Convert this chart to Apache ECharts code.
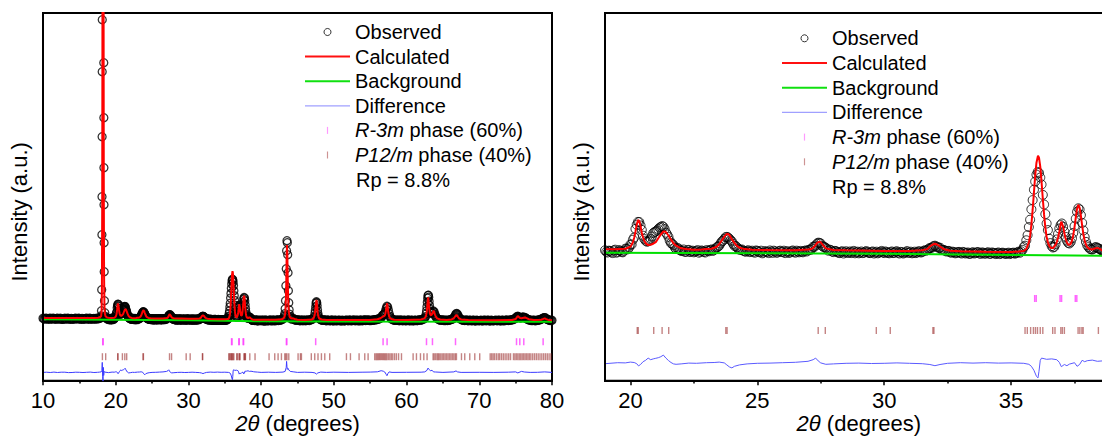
<!DOCTYPE html>
<html><head><meta charset="utf-8">
<script src="https://cdn.jsdelivr.net/npm/echarts@6/dist/echarts.min.js"></script>
<style>html,body{margin:0;padding:0;background:#fff}#c{width:1102px;height:436px}</style>
</head><body><div id="c"></div>
<script>
// ---------- DATA (2θ in degrees, intensity in arbitrary units) ----------
const observed = [
[10,62.4],[10.25,61.6],[10.5,62.3],[10.75,61.5],[11,62.6],[11.25,61.9],[11.5,62.2],[11.75,61.4],[12,62.5],[12.25,61.8],[12.5,62.0],[12.75,61.3],[13,62.4],[13.25,61.7],[13.5,62.3],[13.75,61.5],[14,62.1],[14.25,61.6],[14.5,62.5],[14.75,61.8],[15,62.2],[15.25,61.4],[15.5,62.0],[15.75,61.7],[16,62.4],[16.25,61.5],[16.5,62.2],[16.75,61.8],[17,62.3],[17.25,61.6],[17.5,62.1],[17.75,62.4],
[10.125,61.9],[10.375,62.6],[10.625,61.8],[10.875,62.2],[11.125,61.4],[11.375,62.5],[11.625,61.7],[11.875,62.3],[12.125,61.6],[12.375,62.4],[12.625,61.5],[12.875,62.1],[13.125,61.8],[13.375,62.6],[13.625,61.6],[13.875,62.2],[14.125,61.4],[14.375,62.3],[14.625,61.9],[14.875,62.5],[15.125,61.6],[15.375,62.2],[15.625,61.5],[15.875,62.3],[16.125,61.8],[16.375,62.6],[16.625,61.5],[16.875,62.0],[17.125,61.7],[17.375,62.4],[17.625,61.9],
[17.85,62.6],[17.95,63.2],[18,64.8],[18.04,70],[18.072,91],[18.102,146],[18.114,184],[18.128,244],[18.141,309],[18.149,361],[18.17,600],[18.2,800],[18.23,900],[18.26,950],[18.29,860],[18.32,700],[18.34,520],[18.358,318],[18.368,263],[18.378,213],[18.388,176],[18.401,138],[18.415,109],[18.45,80],[18.5,68],[18.55,64.5],[18.6,63.4],[18.7,62.5],[18.8,62.0],[18.9,61.6],
[19,62.2],[19.1,61.1],[19.2,61.9],[19.3,60.8],[19.4,62.5],[19.5,61.4],[19.6,61.9],[19.7,61.2],[19.8,63.0],[19.9,62.7],[20,65.1],[20.05,65.1],[20.1,67.5],[20.15,68.6],[20.2,72.9],[20.25,75.0],[20.3,76.4],[20.35,76.3],[20.4,74.6],[20.45,72.4],[20.5,69.5],[20.55,67.9],[20.6,67.0],[20.7,66.7],[20.8,67.9],[20.9,70.8],[21,71.6],[21.1,72.8],[21.2,73.8],[21.3,74.0],[21.4,71.0],[21.5,68.9],[21.6,65.8],[21.7,64.8],[21.8,62.9],[21.9,63.1],[22,61.9],[22.1,62.6],[22.2,61.5],[22.3,62.4],[22.4,61.8],[22.5,61.2],[22.6,61.9],[22.7,61.0],[22.8,62.1],[22.9,61.4],[23,62.3],[23.1,61.7],[23.2,62.6],[23.3,62.4],[23.4,63.7],[23.5,64.5],[23.6,66.6],[23.7,67.9],[23.8,68.9],[23.9,68.0],[24,66.6],[24.1,64.4],[24.2,63.7],[24.3,62.5],[24.4,62.6],[24.5,61.7],[24.6,62.0],[24.7,61.3],[24.8,62.0],[24.9,61.0],
[19.05,61.5],[19.15,62.0],[19.25,61.3],[19.35,62.1],[19.45,61.0],[19.55,62.3],[19.65,61.4],[19.75,62.0],[19.85,62.9],[19.95,63.6],[20.65,66.5],[20.75,67.2],[20.85,69.1],[20.95,71.3],[21.05,72.1],[21.15,73.5],[21.25,74.3],[21.35,72.8],[21.45,70.1],[21.55,67.0],[21.65,65.4],[21.75,63.6],[21.85,63.3],[21.95,62.3],
[22.05,62.0],[22.15,61.4],[22.25,62.2],[22.35,61.3],[22.45,62.0],[22.55,61.6],[22.65,62.3],[22.75,61.5],[22.85,61.9],[22.95,61.1],[23.05,62.0],[23.15,62.4],[23.25,61.9],[23.35,63.1],[23.45,63.9],[23.55,65.6],[23.65,67.0],[23.75,68.7],[23.85,68.6],[23.95,67.2],[24.05,65.4],[24.15,64.4],[24.25,62.9],[24.35,62.4],[24.45,62.0],[24.55,61.5],[24.65,62.2],[24.75,61.6],[24.85,61.4],[24.95,62.1],
[25,61.9],[25.1,61.2],[25.2,60.7],[25.3,61.8],[25.4,61.5],[25.5,62.1],[25.6,60.9],[25.7,61.6],[25.8,61.1],[25.9,62.0],[26,61.3],[26.1,60.8],[26.2,61.7],[26.3,61.2],[26.4,62.1],[26.5,61.0],[26.6,61.6],[26.7,61.9],[26.8,61.2],[26.9,62.1],[27,62.2],[27.1,62.4],[27.2,64.0],[27.3,64.6],[27.4,66.0],[27.5,65.6],[27.6,63.9],[27.7,63.4],[27.8,62.0],[27.9,62.3],[28,61.3],
[25.05,61.4],[25.15,62.0],[25.25,61.1],[25.35,61.3],[25.45,60.8],[25.55,61.5],[25.65,62.0],[25.75,61.0],[25.85,61.7],[25.95,61.4],[26.05,62.0],[26.15,61.5],[26.25,60.9],[26.35,61.8],[26.45,61.4],[26.55,62.0],[26.65,61.2],[26.75,61.5],[26.85,61.9],[26.95,61.6],[27.05,62.5],[27.15,63.1],[27.25,63.9],[27.35,65.5],[27.45,65.9],[27.55,64.5],[27.65,63.9],[27.75,62.8],[27.85,62.5],[27.95,61.6],
[28.1,61.8],[28.2,61.0],[28.3,61.5],[28.4,60.6],[28.5,61.7],[28.6,61.1],[28.7,60.8],[28.8,61.9],[28.9,61.2],[29,60.7],[29.1,61.6],[29.2,61.0],[29.3,61.8],[29.4,60.9],[29.5,61.4],[29.6,60.6],[29.7,61.5],[29.8,61.1],[29.9,61.9],[30,60.8],[30.1,61.3],[30.2,60.7],[30.3,61.6],[30.4,61.0],[30.5,61.7],[30.6,60.6],[30.7,61.2],[30.8,60.9],[30.9,61.8],[31,61.1],[31.1,60.7],[31.2,61.5],[31.3,61.2],[31.4,61.6],[31.5,61.4],[31.6,62.2],[31.7,62.3],[31.8,63.4],[31.9,63.8],[32,64.5],[32.1,63.9],[32.2,63.5],[32.3,62.3],[32.4,62.0],[32.5,61.8],[32.6,61.2],[32.7,61.5],[32.8,60.7],[32.9,61.3],
[28.05,61.9],[28.15,61.3],[28.25,60.8],[28.35,61.7],[28.45,61.2],[28.55,60.9],[28.65,61.6],[28.75,61.4],[28.85,60.7],[28.95,61.5],[29.05,61.1],[29.15,60.8],[29.25,61.5],[29.35,61.3],[29.45,60.8],[29.55,61.6],[29.65,61.1],[29.75,60.7],[29.85,61.4],[29.95,61.2],[30.05,61.6],[30.15,60.9],[30.25,61.3],[30.35,60.8],[30.45,61.5],[30.55,61.0],[30.65,61.4],[30.75,60.6],[30.85,61.3],[30.95,60.9],[31.05,61.5],[31.15,61.0],[31.25,60.8],[31.35,61.7],[31.45,61.1],[31.55,61.9],[31.65,62.0],[31.75,62.9],[31.85,63.3],[31.95,64.3],[32.05,64.0],[32.15,63.4],[32.25,62.6],[32.35,62.4],[32.45,61.6],[32.55,61.9],[32.65,61.0],[32.75,61.3],[32.85,60.9],[32.95,61.4],
[33,60.9],[33.1,61.4],[33.2,60.6],[33.3,61.1],[33.4,60.5],[33.5,61.2],[33.6,60.8],[33.7,61.3],[33.8,60.4],[33.9,61.0],[34,60.6],[34.1,61.2],[34.2,60.5],[34.3,60.9],[34.4,60.3],[34.5,61.1],[34.6,60.6],[34.7,60.9],[34.8,60.4],[34.9,61.0],[35,60.7],[35.1,61.0],[35.2,60.8],[35.3,61.5],[35.4,61.7],
[33.05,60.6],[33.15,61.1],[33.25,60.9],[33.35,60.4],[33.45,61.0],[33.55,60.6],[33.65,61.2],[33.75,60.7],[33.85,61.1],[33.95,60.5],[34.05,61.0],[34.15,60.4],[34.25,61.1],[34.35,60.7],[34.45,60.9],[34.55,60.3],[34.65,61.0],[34.75,60.5],[34.85,60.8],[34.95,60.3],[35.05,60.9],[35.15,60.5],[35.25,61.2],[35.35,61.0],[35.45,62.4],
[35.5,63.8],[35.55,64.5],[35.6,67.2],[35.65,69.8],[35.7,73.8],[35.75,77.5],[35.8,82.7],[35.85,87.3],[35.9,92.5],[35.95,96.6],[36,100.0],[36.05,101.4],[36.1,100.9],[36.15,98.6],[36.2,95.1],[36.25,89.9],[36.3,85.1],[36.35,80.3],[36.4,75.6],[36.45,72.3],[36.5,68.0],[36.55,65.8],[36.6,64.3],[36.65,63.6],[36.7,63.9],[36.75,65.2],[36.8,67.6],[36.85,70.4],[36.9,73.1],[36.95,74.8],[37,75.6],[37.05,74.0],[37.1,71.5],[37.15,68.9],[37.2,67.0],[37.25,65.9],[37.3,65.6],[37.35,66.4],[37.4,68.2],[37.45,70.9],[37.5,74.3],[37.55,78.0],[37.6,81.4],[37.65,83.2],[37.7,82.6],[37.75,79.8],[37.8,75.9],[37.85,72.1],[37.9,68.8],[37.95,66.4],[38,64.7],[38.1,63.0],[38.2,62.6],[38.3,63.6],[38.4,63.4],[38.5,62.8],[38.6,61.9],[38.7,61.0],[38.8,60.6],[38.9,60.3],[39,60.5],
[38.05,63.8],[38.15,62.7],[38.25,63.0],[38.35,63.8],[38.45,63.1],[38.55,62.3],[38.65,61.5],[38.75,60.7],[38.85,60.9],[38.95,60.4],
[39.25,60.6],[39.5,59.7],[39.75,60.4],[40,59.9],[40.25,60.8],[40.5,59.6],[40.75,60.3],[41,60.0],[41.25,60.7],[41.5,59.8],[41.75,60.5],[42,60.1],[42.25,60.9],[42.5,60.4],[42.75,61.0],[43,61.8],[43.1,62.9],[43.2,64.8],[43.25,67],[43.3,72],[43.35,80],[43.4,95],[43.45,112],[43.5,130],[43.55,140],[43.6,138],[43.65,126],[43.7,108],[43.75,90],[43.8,78],[43.85,71],[43.9,66.5],[43.95,64.3],[44,63.0],[44.1,62.1],[44.25,61.6],[44.4,62.5],[44.5,61.5],[44.75,60.4],[45,60.9],[45.25,60.2],[45.5,60.7],[45.75,60.0],[46,60.8],[46.25,60.3],[46.5,60.6],[46.75,60.9],[47,61.3],[47.2,62.4],[47.3,64],[47.4,67.5],[47.45,70.5],[47.5,74],[47.55,77.5],[47.6,78.9],[47.65,78],[47.7,75],[47.75,71],[47.8,67.5],[47.85,65],[47.9,63.3],[48,62],[48.25,60.9],[48.5,60.3],[48.75,60.8],[49,59.9],[49.25,60.5],[49.5,60.0],[49.75,60.7],
[39.125,60.2],[39.375,60.9],[39.625,60.1],[39.875,60.6],[40.125,60.3],[40.375,59.8],[40.625,60.7],[40.875,59.9],[41.125,60.4],[41.375,60.1],[41.625,60.8],[41.875,59.9],[42.125,60.5],[42.375,60.2],[42.625,60.6],[42.875,61.2],[44.625,61.0],[44.875,60.5],[45.125,60.7],[45.375,60.0],[45.625,60.6],[45.875,60.3],[46.125,60.0],[46.375,60.7],[46.625,60.2],[46.875,61.0],
[50,59.8],[50.25,60.4],[50.5,60.1],[50.75,60.6],[51,59.7],[51.25,60.3],[51.5,60.0],[51.75,60.6],[52,59.9],[52.25,60.5],[52.5,60.1],[52.75,60.8],[53,60.0],[53.25,60.6],[53.5,59.8],[53.75,60.4],[54,60.2],[54.25,60.9],[54.5,60.3],[54.75,60.7],[55,60.1],[55.25,60.6],[55.5,61.0],[55.75,60.8],[56,61.4],[56.25,61.9],[56.5,63.0],[56.6,64.2],[56.7,65.3],[56.8,66.0],[56.9,66.4],[57,67.5],[57.1,69.6],[57.2,72.3],[57.3,74.4],[57.4,73.6],[57.5,70.6],[57.6,67.2],[57.7,64.6],[57.8,63.0],[57.9,62.0],[58,61.5],[58.25,60.7],[58.5,60.3],[58.75,60.8],[59,60.0],[59.25,60.6],[59.5,59.9],[59.75,60.5],
[48.125,61.5],[48.375,60.5],[48.625,60.9],[48.875,60.2],[49.125,60.7],[49.375,60.1],[49.625,60.4],[49.875,60.0],[50.125,60.6],[50.375,59.9],[50.625,60.4],[50.875,60.1],[51.125,60.6],[51.375,59.8],[51.625,60.4],[51.875,60.2],[52.125,60.7],[52.375,60.0],[52.625,60.5],[52.875,60.2],[53.125,60.4],[53.375,60.1],[53.625,60.7],[53.875,59.9],[54.125,60.5],[54.375,60.2],[54.625,60.8],[54.875,60.3],[55.125,60.5],[55.375,60.3],[55.625,60.9],[55.875,61.2],[56.125,61.6],[56.375,62.5],
[60,60.1],[60.25,60.7],[60.5,59.8],[60.75,60.4],[61,60.0],[61.25,60.6],[61.5,60.2],[61.75,60.9],[62,60.7],[62.25,61.4],[62.5,62.6],[62.6,64],[62.7,67],[62.75,70],[62.8,74],[62.85,78.5],[62.9,82.5],[62.95,85.2],[63,85.5],[63.05,83.5],[63.1,79.5],[63.15,75.5],[63.2,72],[63.3,68.5],[63.4,67.2],[63.5,67.8],[63.6,69.2],[63.7,69.7],[63.8,68.6],[63.9,66.4],[64,64.4],[64.1,63.0],[64.25,61.9],[64.5,60.9],[64.75,60.4],[65,60.8],[65.25,60.1],[65.5,60.6],[65.75,60.3],[66,61.0],[66.25,61.4],[66.5,62.8],[66.6,64.0],[66.7,65.5],[66.8,66.8],[66.9,67.2],[67,66.4],[67.1,64.9],[67.2,63.3],[67.3,62.2],[67.5,61.2],[67.75,60.6],[68,60.2],[68.25,60.7],[68.5,59.9],[68.75,60.4],[69,60.0],[69.25,60.6],[69.5,59.7],[69.75,60.3],
[58.125,61.0],[58.375,60.5],[58.625,60.6],[58.875,60.3],[59.125,60.7],[59.375,60.2],[59.625,60.6],[59.875,60.0],[60.125,60.4],[60.375,60.2],[60.625,60.6],[60.875,60.0],[61.125,60.5],[61.375,60.1],[61.625,60.5],[61.875,60.6],[62.125,61.0],[62.375,61.8],[64.375,61.4],[64.625,60.6],[64.875,60.7],[65.125,60.4],[65.375,60.5],[65.625,60.2],[65.875,60.7],[66.125,61.2],[66.375,62.0],
[70,59.9],[70.25,60.5],[70.5,59.8],[70.75,60.4],[71,60.0],[71.25,60.6],[71.5,59.7],[71.75,60.3],[72,59.9],[72.25,60.5],[72.5,60.0],[72.75,60.6],[73,59.8],[73.25,60.4],[73.5,60.1],[73.75,60.7],[74,60.2],[74.25,60.6],[74.5,60.9],[74.75,61.5],[75,62.6],[75.1,63.4],[75.2,64.1],[75.3,64.4],[75.4,64.0],[75.5,63.3],[75.6,62.9],[75.75,63.0],[75.9,63.4],[76,63.5],[76.1,63.6],[76.25,63.3],[76.4,62.6],[76.5,62.0],[76.75,61.1],[77,60.6],[77.25,60.1],[77.5,60.5],[77.75,60.0],[78,60.3],[78.25,60.9],[78.5,61.4],[78.75,62.4],[78.9,63.0],[79,63.1],[79.1,62.7],[79.25,61.8],[79.5,60.9],[79.75,60.2],[80,60.4],
[67.625,60.9],[67.875,60.3],[68.125,60.5],[68.375,60.2],[68.625,60.6],[68.875,60.1],[69.125,60.4],[69.375,60.0],[69.625,60.5],[69.875,60.1],[70.125,60.3],[70.375,60.0],[70.625,60.5],[70.875,60.2],[71.125,60.4],[71.375,59.9],[71.625,60.5],[71.875,60.0],[72.125,60.3],[72.375,60.2],[72.625,60.4],[72.875,60.0],[73.125,60.5],[73.375,59.9],[73.625,60.5],[73.875,60.3],[74.125,60.5],[74.375,60.8],[74.625,61.1],[74.875,62.0],[76.625,61.5],[76.875,60.8],[77.125,60.3],[77.375,60.4],[77.625,60.2],[77.875,60.4],[78.125,60.6],[78.375,61.1],[78.625,61.9],[79.375,61.3],[79.625,60.5],[79.875,60.3]
];
const calculated = [
[10,62.8],[12,62.8],[14,62.7],[16,62.7],[17,62.8],[17.6,63.0],[17.9,63.6],[18,64.8],[18.06,70],[18.1,90],[18.14,170],[18.17,330],[18.2,600],[18.23,900],[18.25,1000],[18.27,950],[18.3,700],[18.33,400],[18.36,200],[18.4,105],[18.45,75],[18.5,67.5],[18.6,64.5],[18.8,63.3],[19,62.9],[19.4,62.7],[19.8,63.0],[20,64.0],
[20.1,66.2],[20.15,68.5],[20.2,71.5],[20.25,75.0],[20.3,77.3],[20.35,76.8],[20.4,74.2],[20.45,71.0],[20.5,68.6],[20.55,66.9],[20.6,65.8],[20.7,64.8],[20.8,65.0],[20.9,65.5],[21,66.3],[21.1,68.2],[21.2,70.1],[21.3,71.6],[21.35,71.6],[21.4,71.3],[21.5,69.6],[21.6,67.5],[21.7,65.7],[21.8,64.5],[22,63.2],[22.2,62.8],[22.5,62.5],[22.8,62.6],[23,62.9],[23.2,63.0],[23.4,64.0],[23.5,65.2],[23.6,67.1],[23.7,69.0],[23.8,70.4],[23.85,70.3],[23.9,69.8],[24,67.7],[24.1,65.9],[24.2,64.4],[24.3,63.5],[24.5,62.8],[24.8,62.5],[25.5,62.3],[26.5,62.2],[27,62.6],
[27.1,62.7],[27.2,63.4],[27.3,64.9],[27.35,65.8],[27.43,66.5],[27.5,66.2],[27.6,64.6],[27.7,63.3],[27.8,62.8],[28,62.4],[28.5,62.2],[29,62.1],[30,61.9],[31,61.9],[31.5,62.2],[31.7,62.8],[31.8,64.1],[31.9,65.0],[32,65.5],[32.1,65.0],[32.2,64.1],[32.3,63.2],[32.4,62.6],[32.6,62.0],[33,61.7],[34,61.5],[35,61.4],[35.3,61.6],[35.5,61.8],[35.6,62.9],[35.7,66.0],[35.75,69.5],[35.8,75.0],[35.85,82.5],[35.9,91.0],[35.95,99.5],[36,106.0],[36.06,109.5],[36.1,108.5],[36.15,104.0],[36.2,96.5],[36.25,88.0],[36.3,80.0],[36.35,73.5],[36.4,69.0],[36.45,66.2],[36.5,64.5],[36.55,63.6],[36.6,63.3],[36.65,63.4],[36.7,64.0],[36.75,64.9],[36.8,66.3],[36.85,68.5],[36.9,71.5],[36.95,75.0],[36.98,76.5],[37,76.3],[37.05,74.0],[37.1,70.8],[37.15,68.0],[37.2,66.1],[37.25,65.1],[37.3,64.9],[37.35,65.4],[37.4,67.0],[37.45,69.8],[37.5,73.8],[37.55,78.6],[37.6,83.0],[37.65,85.0],[37.7,83.5],[37.75,79.5],[37.8,74.5],[37.85,70.2],[37.9,67.0],[37.95,65.0],[38,63.8],[38.1,62.8],[38.2,62.6],[38.3,63.1],[38.4,63.4],[38.5,62.9],[38.6,62.0],[38.8,61.3],[39,61.0],
[40,60.9],[41,60.9],[42,61.0],[42.8,61.4],[43,61.9],[43.2,63.5],[43.3,67],[43.35,71],[43.4,80],[43.45,96],[43.5,121],[43.55,135.7],[43.6,128],[43.65,105],[43.7,86],[43.75,75],[43.8,69],[43.9,64.5],[44,63],[44.2,62.3],[44.4,62.4],[44.6,61.7],[45,61.0],[46,60.8],[47,61.3],[47.2,62.3],[47.3,64],[47.4,67.5],[47.5,74],[47.55,78],[47.62,80.7],[47.7,75],[47.75,70],[47.8,66.5],[47.9,63.5],[48,62.2],[48.3,61.2],[49,60.8],[52,60.7],[55,60.8],[56,61.4],[56.4,62.5],[56.6,63.5],[56.8,64.5],[56.9,64.6],[57,65.2],[57.1,67.5],[57.2,72],[57.25,75],[57.32,77.4],[57.4,74],[57.45,70.5],[57.5,67.5],[57.6,64.3],[57.7,62.8],[57.9,61.7],[58.3,61.0],[60,60.7],[62,61.2],[62.4,62.1],[62.6,63.5],[62.7,65.5],[62.8,70],[62.88,77],[62.96,83.4],[63.05,78],[63.1,73],[63.2,67.5],[63.3,65.5],[63.4,65.6],[63.5,66.6],[63.6,68.5],[63.72,70.0],[63.8,68.8],[63.9,66.2],[64,64.3],[64.2,62.4],[64.6,61.2],[65.5,60.7],[66.2,61.3],[66.5,62.4],[66.7,64.5],[66.86,65.7],[67,64.5],[67.2,62.4],[67.5,61.3],[68.5,60.6],[72,60.5],[74.5,60.8],[75,61.6],[75.15,63.2],[75.3,64.7],[75.45,63.6],[75.6,62.6],[75.8,62.4],[76.1,63.0],[76.3,63.2],[76.5,62.6],[76.8,61.5],[77.5,60.7],[78.5,61.0],[78.8,61.8],[79,62.4],[79.2,61.6],[79.5,60.8],[80,60.4]
];
const background = [[10,61.4],[19,61.0],[30,60.5],[35,59.9],[39,59.4],[50,59.2],[80,59.0]];
const difference = [
[10,0],[10.5,0.2],[11,-0.1],[11.5,0.3],[12,-0.1],[12.5,0.2],[13,0.2],[13.5,-0.2],[14,-0.1],[14.5,0.2],[15,0.1],[15.5,-0.1],[16,0.1],[16.5,0.3],[17,-0.1],[17.5,0.1],[17.8,0.3],[18,0.5],[18.1,2],[18.15,10],[18.2,-4],[18.25,-9],[18.3,5],[18.35,-3],[18.4,1],[18.5,0.3],[19,-0.2],[19.5,0.3],[19.8,0.2],[20,0.6],[20.15,0.4],[20.25,-0.2],[20.32,-1.3],[20.4,-0.6],[20.5,0.8],[20.6,1.5],[20.7,2.6],[20.8,1.8],[20.9,2.2],[21,2.5],[21.1,2.8],[21.2,3.3],[21.3,4.1],[21.4,2.6],[21.5,1.4],[21.6,0.4],[21.7,-0.3],[21.8,-0.5],[22,-0.3],[22.3,0.1],[22.6,0],[23,0.3],[23.3,0.4],[23.5,0.6],[23.7,0.2],[23.8,-0.8],[23.9,-1.8],[24,-2.3],[24.1,-1.5],[24.3,-0.8],[24.6,-0.3],[25,0],[25.5,0.1],[26,0.3],[26.5,0.5],[27,1.0],[27.2,1.8],[27.3,2.6],[27.4,1.2],[27.5,0.2],[27.7,-0.5],[28,-0.3],[28.5,0],[29,0.1],[29.5,-0.1],[30,0],[30.5,0.2],[31,0],[31.5,-0.2],[31.8,-0.6],[32,-1.2],[32.2,-0.6],[32.5,0],[33,0.3],[33.5,0.1],[34,0.3],[34.5,0.1],[35,0.2],[35.5,0],[35.7,-0.5],[35.8,-1.5],[35.9,-3.5],[36,-6.5],[36.06,-7.3],[36.1,-4],[36.15,1.5],[36.2,2.6],[36.3,2.3],[36.4,2.0],[36.6,2.2],[36.8,1.8],[36.9,0.5],[36.98,-1.7],[37.1,-0.6],[37.2,-1.2],[37.3,-0.4],[37.5,0.3],[37.6,-1.5],[37.7,-0.6],[37.8,1.5],[37.9,0.8],[38,1.3],[38.2,1.6],[38.4,1.0],[38.6,1.2],[38.9,0.8],[39,0.6],[39.5,0.3],[40,0],[41,0.2],[42,0],[43,0.3],[43.3,1],[43.45,5],[43.5,11],[43.55,6],[43.6,3],[43.7,4],[43.8,2.5],[44,1],[44.5,0.5],[45,0],[46,0.2],[47,0],[47.4,-0.5],[47.6,-1.7],[47.8,-0.5],[48.2,0.3],[49,0],[50,0.2],[52,0],[54,0.2],[55,0.3],[56,0.6],[56.5,1.7],[56.8,1.2],[57,0.4],[57.2,-2],[57.3,-3.3],[57.45,-1],[57.6,0.5],[58,0],[60,0.1],[62,0.2],[62.5,0.5],[62.8,2],[62.95,4.3],[63.1,3],[63.3,1.5],[63.5,2.2],[63.7,0.5],[64,0.4],[65,0],[66.5,0.5],[66.8,1.5],[67,0.5],[67.5,0],[70,0.1],[72,0],[74,0.2],[75,0.5],[75.3,-0.5],[75.8,1],[76.2,0.4],[77,0],[78,0.1],[79,0.5],[80,0]
];
const reflectionsR3m = [18.22,18.27,35.93,35.99,36.93,36.99,37.53,37.59,43.47,43.53,47.5,56.77,57.32,62.74,63.56,66.73,75.12,75.57,76.12,78.78];
const reflectionsP12m = [18.17,18.62,20.27,20.31,20.92,21.25,21.51,23.76,23.81,27.4,27.68,29.69,30.24,31.92,31.96,35.55,35.64,35.77,35.88,35.96,36.04,36.15,36.25,36.64,36.73,36.96,37.02,37.1,37.64,37.71,37.79,37.84,38.44,39.16,41.09,41.87,42.33,42.79,43.25,43.4,43.55,43.8,45.08,45.4,45.54,46.9,47.37,47.82,48.29,48.75,49.43,51.73,52.28,53.47,54.25,54.71,55.62,55.8,55.95,56.1,56.25,56.4,56.55,56.7,56.85,57.0,57.15,57.3,57.5,57.7,57.9,58.1,58.35,58.6,58.9,59.3,60.9,61.36,61.91,62.37,62.82,63.65,63.8,64.0,64.2,64.35,64.5,64.7,64.9,65.1,65.3,65.5,65.7,65.9,66.1,66.3,66.5,66.7,66.86,67.55,68.0,68.69,69.38,70.06,71.5,71.7,71.9,72.1,72.35,72.6,72.8,73.05,73.3,73.55,73.8,74.05,74.3,74.7,74.9,75.1,75.3,75.5,75.7,75.9,76.1,76.3,76.5,76.7,76.9,77.1,77.35,77.6,77.85,78.1,78.35,78.6,78.85,79.1,79.35,79.6,79.85];
const seriesNames = ['Observed','Calculated','Background','Difference','R-3m phase (60%)','P12/m phase (40%)'];
const legendLabels = ['Observed','Calculated','Background','Difference','{i|R-3m} phase (60%)','{i|P12/m} phase (40%)'];
const rpText = 'Rp = 8.8%';
const xTicksRight = [20,25,30,35];
const xMinorRight = [22.5,27.5,32.5,37.5];

// ---------- LAYOUT / STYLE ----------
const FONT = '"Liberation Sans", Arial, Helvetica, sans-serif';
const GRID_TOP = 13, GRID_H = 367.7;
const panels = [
  {left:43, width:509, yMin:0, yMax:367.7, diffOff:8.3, rRow:39, pRow:24, sym:8, symBorder:1.3, diffColor:'#3b3bff',
   legendLeft:305, legendTop:22, legendGap:4.6, rpX:356, rpY:180},
  {left:605, width:507.6, yMin:-3, yMax:180.85, diffOff:5.7, rRow:38.1, pRow:22.1, sym:9, symBorder:1, diffColor:'#5a5aff',
   legendLeft:782, legendTop:28.3, legendGap:4.7, rpX:832, rpY:186.7}
];
const tickIcon = 'path://M0,0L1,0L1,6L0,6Z';
const lineIcon = 'path://M0,0L45,0L45,2L0,2Z';
const thinLineIcon = 'path://M0,0L45,0L45,1.2L0,1.2Z';

const grid = panels.map(p => ({left:p.left, width:p.width, top:GRID_TOP, height:GRID_H, outerBoundsMode:'none', containLabel:false,
  show:true, borderColor:'#000', borderWidth:2, backgroundColor:'transparent'}));
const axisLabelStyle = {fontSize:22, color:'#000', fontFamily:FONT, margin:9};
const nameStyle = {fontSize:22, lineHeight:22, color:'#000', fontFamily:FONT,
  rich:{i:{fontStyle:'italic', fontSize:22, lineHeight:22, fontFamily:FONT, color:'#000'}}};
const xAxis = [
  {type:'value', gridIndex:0, min:10, max:80, interval:10, position:'bottom',
   axisLine:{onZero:false, lineStyle:{color:'#000', width:2}},
   axisTick:{length:4.5, lineStyle:{color:'#000', width:1.5}},
   minorTick:{show:true, splitNumber:2, length:2.7, lineStyle:{color:'#000', width:1.5}},
   axisLabel:axisLabelStyle, splitLine:{show:false},
   name:'{i|2θ} (degrees)', nameLocation:'middle', nameGap:32, nameMoveOverlap:false, nameTextStyle:nameStyle},
  {type:'value', gridIndex:1, min:19, max:39, position:'bottom',
   axisLine:{onZero:false, lineStyle:{color:'#000', width:2}},
   axisTick:{length:4.5, customValues:xTicksRight, lineStyle:{color:'#000', width:1.5}},
   axisLabel:Object.assign({customValues:xTicksRight}, axisLabelStyle), splitLine:{show:false},
   name:'{i|2θ} (degrees)', nameLocation:'middle', nameGap:32, nameMoveOverlap:false, nameTextStyle:nameStyle},
  {type:'value', gridIndex:1, min:19, max:39, position:'bottom',
   axisLine:{show:false, onZero:false},
   axisTick:{length:2.7, customValues:xMinorRight, lineStyle:{color:'#000', width:1.5}},
   axisLabel:{show:false}, splitLine:{show:false}}
];
const yAxis = panels.map((p, i) => ({type:'value', gridIndex:i, min:p.yMin, max:p.yMax, position:'left',
  axisLine:{show:true, onZero:false, lineStyle:{color:'#000', width:2}}, axisTick:{show:false}, axisLabel:{show:false}, splitLine:{show:false},
  name:'Intensity (a.u.)', nameLocation:'middle', nameGap:13, nameMoveOverlap:false,
  nameTextStyle:{fontSize:22, color:'#000', fontFamily:FONT, padding:[0,30,0,0]}}));

const series = [];
panels.forEach((p, i) => {
  const xi = i, yi = i;
  series.push({name:seriesNames[0], type:'scatter', xAxisIndex:xi, yAxisIndex:yi, data:observed, clip:true,
    symbol:'circle', symbolSize:p.sym, itemStyle:{color:'rgba(0,0,0,0)', borderColor:'#000', borderWidth:p.symBorder}, z:2, silent:true});
  series.push({name:seriesNames[2], type:'line', xAxisIndex:xi, yAxisIndex:yi, data:background, symbol:'none', clip:true,
    lineStyle:{color:'#00e000', width:2}, itemStyle:{color:'#00e000'}, z:3, silent:true});
  series.push({name:seriesNames[1], type:'line', xAxisIndex:xi, yAxisIndex:yi, data:calculated, symbol:'none', clip:true,
    lineStyle:{color:'#ff0000', width:2}, itemStyle:{color:'#ff0000'}, z:4, silent:true});
  series.push({name:seriesNames[3], type:'line', xAxisIndex:xi, yAxisIndex:yi, data:difference.map(d => [d[0], d[1] + p.diffOff]), symbol:'none', clip:true,
    lineStyle:{color:p.diffColor, width:1}, itemStyle:{color:p.diffColor}, z:3, silent:true});
  series.push({name:seriesNames[4], type:'scatter', xAxisIndex:xi, yAxisIndex:yi, data:reflectionsR3m.map(x => [x, p.rRow]), clip:true,
    symbol:'rect', symbolSize:[1.5, 7], itemStyle:{color:'#ff40ff'}, z:3, silent:true});
  series.push({name:seriesNames[5], type:'scatter', xAxisIndex:xi, yAxisIndex:yi, data:reflectionsP12m.map(x => [x, p.pRow]), clip:true,
    symbol:'rect', symbolSize:[1.4, 7], itemStyle:{color:'rgba(150,35,35,0.7)'}, z:3, silent:true});
});

const legendData = [
  {name:seriesNames[0], icon:'circle', itemStyle:{color:'rgba(0,0,0,0)', borderColor:'#000', borderWidth:1}},
  {name:seriesNames[1], icon:lineIcon, itemStyle:{color:'#ff1010', borderWidth:0}},
  {name:seriesNames[2], icon:lineIcon, itemStyle:{color:'#10e010', borderWidth:0}},
  {name:seriesNames[3], icon:thinLineIcon, itemStyle:{color:'#a0a0ff', borderWidth:0}},
  {name:seriesNames[4], icon:tickIcon, itemStyle:{color:'#ff80ff', borderWidth:0}},
  {name:seriesNames[5], icon:tickIcon, itemStyle:{color:'#c07878', borderWidth:0}}
];
const legend = panels.map(p => ({
  orient:'vertical', left:p.legendLeft, top:p.legendTop, itemWidth:45, itemHeight:7, itemGap:p.legendGap,
  selectedMode:false, padding:0,
  textStyle:{fontSize:20, color:'#000', fontFamily:FONT, lineHeight:20,
    rich:{i:{fontStyle:'italic', fontSize:20, color:'#000', fontFamily:FONT, lineHeight:20}}},
  formatter: n => legendLabels[seriesNames.indexOf(n)],
  data: legendData
}));

// Rp annotation text and the left frame edge of each panel (drawn on top)
const graphic = [];
panels.forEach(p => {
  graphic.push({type:'text', x:p.rpX, y:p.rpY, silent:true, z:100,
    style:{text:rpText, fontSize:20, fontFamily:FONT, fill:'#000', verticalAlign:'middle', align:'left'}});
  graphic.push({type:'rect', silent:true, z:100,
    shape:{x:p.left - 1, y:GRID_TOP - 1, width:2, height:GRID_H + 2}, style:{fill:'#000'}});
});

const chart = echarts.init(document.getElementById('c'), null, {renderer:'svg'});
chart.setOption({animation:false, backgroundColor:'#fff', grid, xAxis, yAxis, series, legend, graphic});
</script>
</body></html>
